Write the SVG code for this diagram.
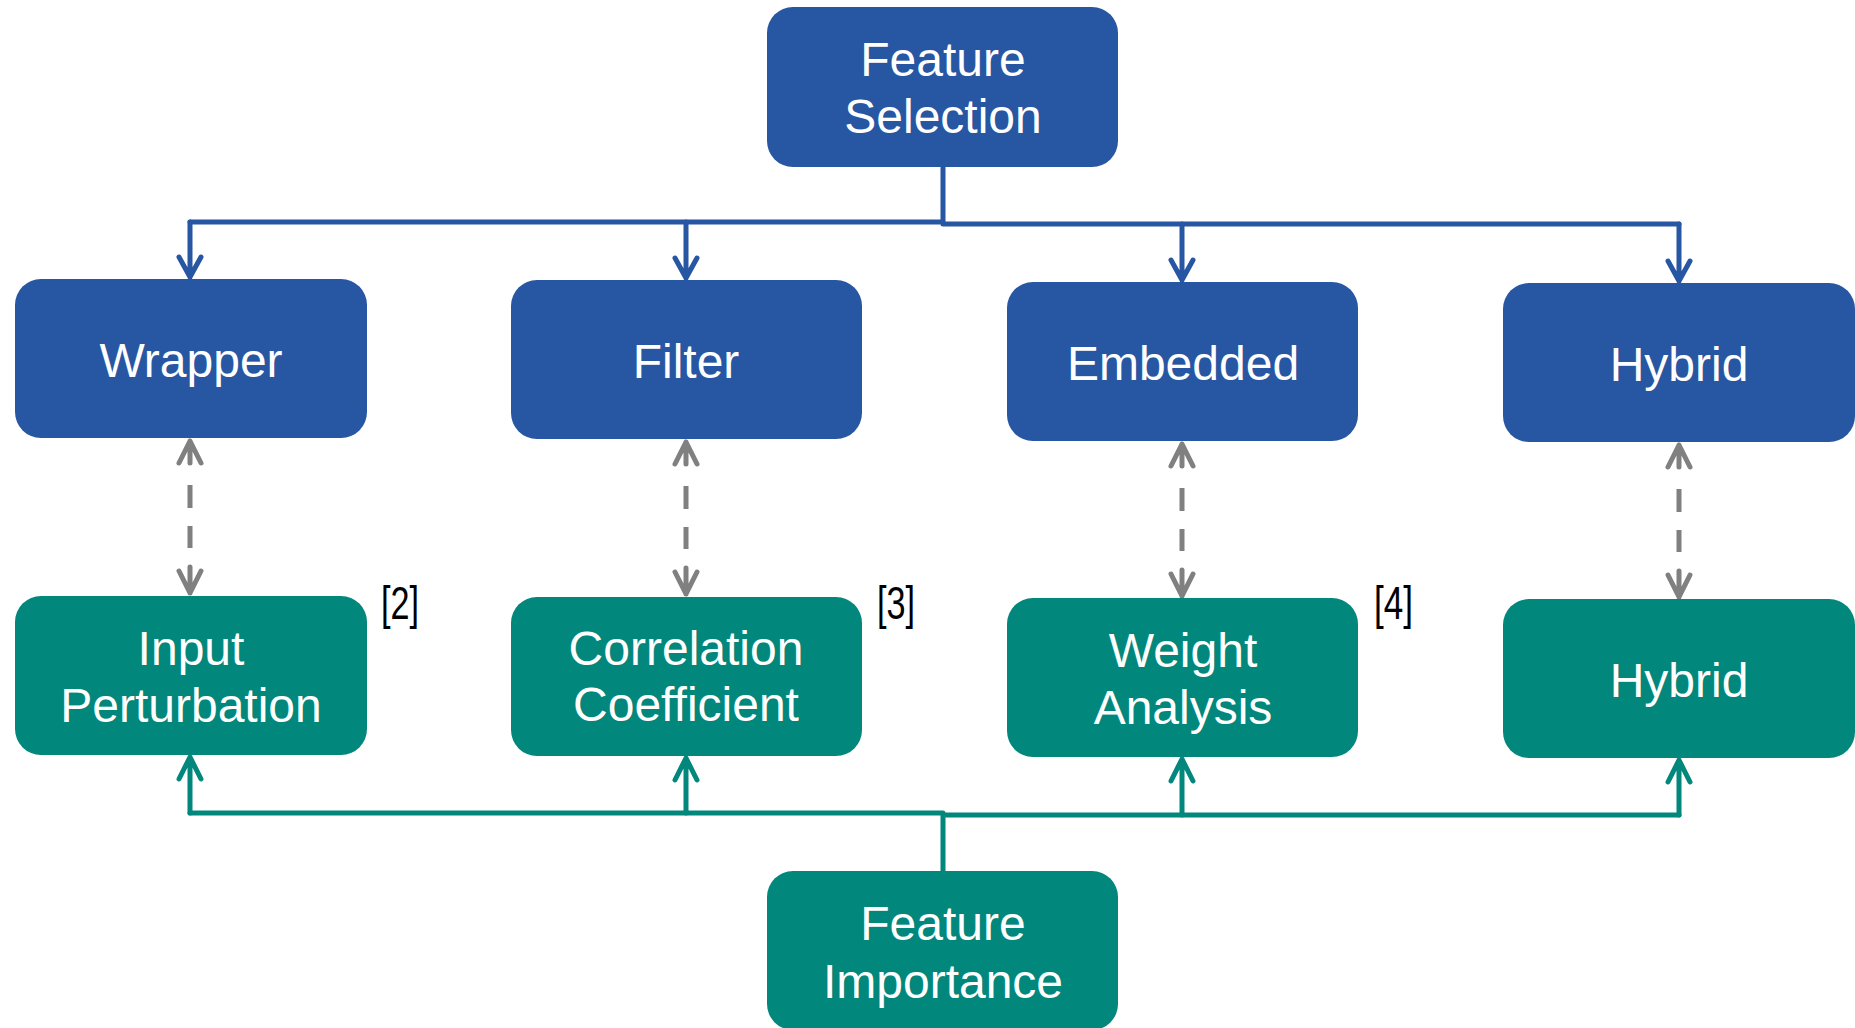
<svg xmlns="http://www.w3.org/2000/svg" width="1855" height="1028" viewBox="0 0 1855 1028">
<style>
.blue{fill:#2756A3}
.teal{fill:#02877C}
.lbl{font-family:"Liberation Sans",Arial,sans-serif;font-size:48px;fill:#ffffff;text-anchor:middle}
.ref{font-family:"Liberation Sans",Arial,sans-serif;font-size:47px;fill:#000000}
.cb{fill:none;stroke:#2756A3;stroke-width:5;stroke-linecap:round;stroke-linejoin:round}
.ct{fill:none;stroke:#02877C;stroke-width:5;stroke-linecap:round;stroke-linejoin:round}
.cg{fill:none;stroke:#808080;stroke-width:5;stroke-linecap:round;stroke-linejoin:round}
.dash{fill:none;stroke:#808080;stroke-width:5}
</style>
<defs>
<g id="dashpair">
<path class="cg" d="M0,0 L0,22 M-11,22 L0,0 L11,22"/>
<path class="dash" d="M0,44 L0,67 M0,85 L0,107"/>
<path class="cg" d="M0,152 L0,126 M-11,130 L0,152 L11,130"/>
</g>
</defs>
<g id="connectors">
<path class="cb" d="M943,167 L943,222 M190,222 L943,222 M943,224 L1679,224"/>
<path class="cb" d="M190,222 L190,277 M179,257 L190,277 L201,257"/>
<path class="cb" d="M686,222 L686,278 M675,258 L686,278 L697,258"/>
<path class="cb" d="M1182,224 L1182,280 M1171,260 L1182,280 L1193,260"/>
<path class="cb" d="M1679,224 L1679,281 M1668,261 L1679,281 L1690,261"/>
<path class="ct" d="M943,871 L943,814 M190,813 L943,813 M943,815 L1679,815"/>
<path class="ct" d="M190,813 L190,757 M179,779 L190,757 L201,779"/>
<path class="ct" d="M686,813 L686,758 M675,780 L686,758 L697,780"/>
<path class="ct" d="M1182,815 L1182,759 M1171,781 L1182,759 L1193,781"/>
<path class="ct" d="M1679,815 L1679,760 M1668,782 L1679,760 L1690,782"/>
<use href="#dashpair" transform="translate(190,441)"/>
<use href="#dashpair" transform="translate(686,442)"/>
<use href="#dashpair" transform="translate(1182,444)"/>
<use href="#dashpair" transform="translate(1679,445)"/>
</g>
<g id="feature-selection">
<rect class="blue" x="767" y="7" width="351" height="160" rx="26"/>
<text class="lbl" x="943" y="76">Feature</text>
<text class="lbl" x="943" y="133">Selection</text>
</g>
<g id="wrapper">
<rect class="blue" x="15" y="279" width="352" height="159" rx="26"/>
<text class="lbl" x="191" y="377">Wrapper</text>
</g>
<g id="filter">
<rect class="blue" x="511" y="280" width="351" height="159" rx="26"/>
<text class="lbl" x="686" y="378">Filter</text>
</g>
<g id="embedded">
<rect class="blue" x="1007" y="282" width="351" height="159" rx="26"/>
<text class="lbl" x="1183" y="380">Embedded</text>
</g>
<g id="hybrid-top">
<rect class="blue" x="1503" y="283" width="352" height="159" rx="26"/>
<text class="lbl" x="1679" y="381">Hybrid</text>
</g>
<g id="input-perturbation">
<rect class="teal" x="15" y="596" width="352" height="159" rx="26"/>
<text class="lbl" x="191" y="665">Input</text>
<text class="lbl" x="191" y="722">Perturbation</text>
</g>
<g id="correlation-coefficient">
<rect class="teal" x="511" y="597" width="351" height="159" rx="26"/>
<text class="lbl" x="686" y="665">Correlation</text>
<text class="lbl" x="686" y="721">Coefficient</text>
</g>
<g id="weight-analysis">
<rect class="teal" x="1007" y="598" width="351" height="159" rx="26"/>
<text class="lbl" x="1183" y="667">Weight</text>
<text class="lbl" x="1183" y="724">Analysis</text>
</g>
<g id="hybrid-bottom">
<rect class="teal" x="1503" y="599" width="352" height="159" rx="26"/>
<text class="lbl" x="1679" y="697">Hybrid</text>
</g>
<g id="feature-importance">
<rect class="teal" x="767" y="871" width="351" height="159" rx="26"/>
<text class="lbl" x="943" y="940">Feature</text>
<text class="lbl" x="943" y="998">Importance</text>
</g>
<g id="refs">
<text class="ref" x="381" y="619" textLength="38" lengthAdjust="spacingAndGlyphs">[2]</text>
<text class="ref" x="877" y="619" textLength="38" lengthAdjust="spacingAndGlyphs">[3]</text>
<text class="ref" x="1374" y="619" textLength="39" lengthAdjust="spacingAndGlyphs">[4]</text>
</g>
</svg>
